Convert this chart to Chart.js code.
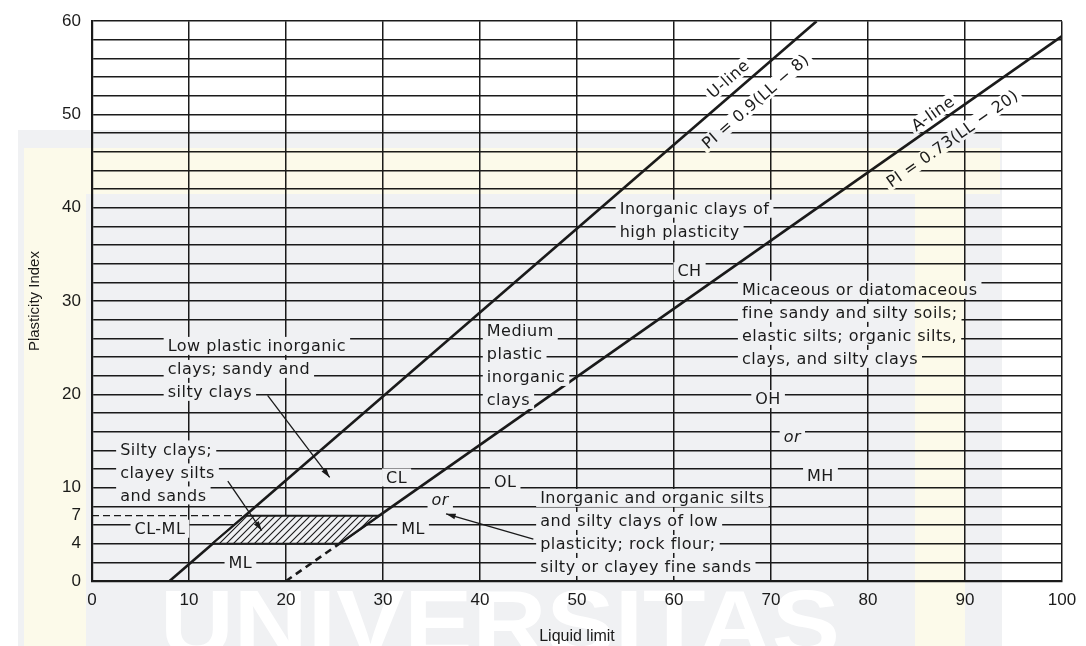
<!DOCTYPE html>
<html>
<head>
<meta charset="utf-8">
<script src="https://cdn.jsdelivr.net/npm/chart.js@4.4.1/dist/chart.umd.min.js"></script>
<style>
  html, body { margin: 0; padding: 0; background: #fff; }
  #wrap { width: 1086px; height: 646px; }
</style>
</head>
<body>
<div id="wrap"><canvas id="myChart" width="1086" height="646"></canvas></div>
<script>
'use strict';

// axis ticks
let llTicks = [0, 10, 20, 30, 40, 50, 60, 70, 80, 90, 100];
let piTickLabels = [0, 4, 7, 10, 20, 30, 40, 50, 60];

// U-line  PI = 0.9(LL - 8)
let uLineLL = [8, 74.7];
let uLinePI = [0, 60];
// A-line  PI = 0.73(LL - 20)
let aLineLL = [25.5, 100];
let aLinePI = [4, 58.4];
let aDashLL = [20, 25.5];
let aDashPI = [0, 4];
// CL-ML zone
let clmlLL = [12.4, 25.5, 29.6, 15.8, 12.4];
let clmlPI = [4, 4, 7, 7, 4];
let dash7LL = [0, 15.8];
let dash7PI = [7, 7];

// zone labels: text lines, LL, PI of first line, align, italic
let zoneText = [
  [['Inorganic clays of', 'high plasticity'], 54.4, 39.9, 'left'],
  [['CH'], 61.6, 33.2, 'center'],
  [['Micaceous or diatomaceous', 'fine sandy and silty soils;', 'elastic silts; organic silts,', 'clays, and silty clays'], 67.0, 31.2, 'left'],
  [['OH'], 69.7, 19.5, 'center'],
  [['or'], 72.2, 15.4, 'center', true],
  [['MH'], 75.1, 11.3, 'center'],
  [['Medium', 'plastic', 'inorganic', 'clays'], 40.7, 26.8, 'left'],
  [['Low plastic inorganic', 'clays; sandy and', 'silty clays'], 7.8, 25.2, 'left'],
  [['Silty clays;', 'clayey silts', 'and sands'], 2.9, 14.1, 'left'],
  [['CL'], 31.4, 11.1, 'center'],
  [['OL'], 42.6, 10.6, 'center'],
  [['or'], 35.9, 8.7, 'center', true],
  [['ML'], 33.1, 5.6, 'center'],
  [['CL-ML'], 7.0, 5.6, 'center'],
  [['ML'], 15.3, 1.9, 'center'],
  [['Inorganic and organic silts', 'and silty clays of low', 'plasticity; rock flour;', 'silty or clayey fine sands'], 46.2, 8.9, 'left']
];

// labels along the two lines: text, LL, PI, which line
let lineText = [
  ['U-line', 65.6, 53.8, 0],
  ['PI = 0.9(LL \u2212 8)', 68.4, 51.4, 0],
  ['A-line', 86.7, 50.1, 1],
  ['PI = 0.73(LL \u2212 20)', 88.7, 47.4, 1]
];

// arrows: from LL, PI to LL, PI
let arrowFromLL = [18.1, 14.0, 45.5];
let arrowFromPI = [19.9, 10.7, 4.5];
let arrowToLL = [24.5, 17.5, 36.5];
let arrowToPI = [11.1, 5.4, 7.2];

const ink = '#1b1b1b';
const labelFont = '16px "DejaVu Sans"';

function pts(xs, ys) {
  return xs.map((x, i) => ({ x: x, y: ys[i] }));
}

// diagonal hatch for CL-ML
function makeHatch() {
  let c = document.createElement('canvas');
  c.width = 7;
  c.height = 7;
  let g = c.getContext('2d');
  g.fillStyle = '#fff';
  g.fillRect(0, 0, 7, 7);
  g.strokeStyle = ink;
  g.lineWidth = 1.1;
  g.beginPath();
  g.moveTo(-1, 8); g.lineTo(8, -1);
  g.moveTo(-1, 1); g.lineTo(1, -1);
  g.moveTo(6, 8); g.lineTo(8, 6);
  g.stroke();
  return g.createPattern(c, 'repeat');
}

// faint watermark of the scanned page
function makeTint(w, h) {
  let c = document.createElement('canvas');
  c.width = w;
  c.height = h;
  let g = c.getContext('2d');
  g.fillStyle = '#fff';
  g.fillRect(0, 0, w, h);
  g.fillStyle = '#f0f1f3';
  g.fillRect(18, 130, 984, h - 130);
  g.fillStyle = '#fcfaea';
  g.fillRect(24, 148, 976, 46);
  g.fillRect(24, 148, 62, h - 148);
  g.fillRect(915, 148, 50, h - 148);
  g.fillStyle = '#fff';
  g.font = 'bold 92px "Liberation Sans"';
  g.textBaseline = 'alphabetic';
  let word = 'UNIVERSITAS';
  let tw = g.measureText(word).width;
  g.save();
  g.translate(160, 655);
  g.scale(680 / tw, 1);
  g.fillText(word, 0, 0);
  g.restore();
  return c;
}

const labelPlugin = {
  id: 'labelPlugin',
  afterDatasetsDraw(chart) {
    const ctx = chart.ctx;
    const xs = chart.scales.x;
    const ys = chart.scales.y;
    ctx.save();
    ctx.font = labelFont;
    ctx.textBaseline = 'middle';
    ctx.letterSpacing = '0.5px';

    // arrows
    ctx.strokeStyle = ink;
    ctx.fillStyle = ink;
    ctx.lineWidth = 1.3;
    for (let i = 0; i < arrowFromLL.length; i++) {
      let x1 = xs.getPixelForValue(arrowFromLL[i]);
      let y1 = ys.getPixelForValue(arrowFromPI[i]);
      let x2 = xs.getPixelForValue(arrowToLL[i]);
      let y2 = ys.getPixelForValue(arrowToPI[i]);
      let a = Math.atan2(y2 - y1, x2 - x1);
      ctx.beginPath();
      ctx.moveTo(x1, y1);
      ctx.lineTo(x2, y2);
      ctx.stroke();
      ctx.beginPath();
      ctx.moveTo(x2, y2);
      ctx.lineTo(x2 - 10 * Math.cos(a - 0.3), y2 - 10 * Math.sin(a - 0.3));
      ctx.lineTo(x2 - 10 * Math.cos(a + 0.3), y2 - 10 * Math.sin(a + 0.3));
      ctx.closePath();
      ctx.fill();
    }

    // zone texts with white boxes that break the grid
    for (let i = 0; i < zoneText.length; i++) {
      let lines = zoneText[i][0];
      let x = xs.getPixelForValue(zoneText[i][1]);
      let y = ys.getPixelForValue(zoneText[i][2]);
      let align = zoneText[i][3];
      ctx.font = zoneText[i][4] ? 'italic ' + labelFont : labelFont;
      for (let j = 0; j < lines.length; j++) {
        let w = ctx.measureText(lines[j]).width;
        let left = align === 'left' ? x : x - w / 2;
        let ly = y + j * 23;
        ctx.fillStyle = '#fff';
        ctx.fillRect(left - 4, ly - 9, w + 8, 18);
        ctx.fillStyle = ink;
        ctx.textAlign = 'left';
        ctx.fillText(lines[j], left, ly + 1);
      }
    }

    // rotated texts along U and A lines
    ctx.font = labelFont;
    let lineSets = [[uLineLL, uLinePI], [aLineLL, aLinePI]];
    for (let i = 0; i < lineText.length; i++) {
      let set = lineSets[lineText[i][3]];
      let dx = xs.getPixelForValue(set[0][1]) - xs.getPixelForValue(set[0][0]);
      let dy = ys.getPixelForValue(set[1][1]) - ys.getPixelForValue(set[1][0]);
      let ang = Math.atan2(dy, dx);
      let x = xs.getPixelForValue(lineText[i][1]);
      let y = ys.getPixelForValue(lineText[i][2]);
      let w = ctx.measureText(lineText[i][0]).width;
      ctx.save();
      ctx.translate(x, y);
      ctx.rotate(ang);
      ctx.fillStyle = '#fff';
      ctx.fillRect(-w / 2 - 3, -8, w + 6, 16);
      ctx.fillStyle = ink;
      ctx.textAlign = 'center';
      ctx.fillText(lineText[i][0], 0, 1);
      ctx.restore();
    }
    ctx.restore();
  },
  afterDraw(chart) {
    const ctx = chart.ctx;
    if (!chart.$tint) chart.$tint = makeTint(chart.width, chart.height);
    ctx.save();
    ctx.globalCompositeOperation = 'multiply';
    ctx.drawImage(chart.$tint, 0, 0);
    ctx.restore();
  }
};

let ctx = document.getElementById('myChart').getContext('2d');

let myChart = new Chart(ctx, {
  type: 'scatter',
  data: {
    datasets: [{
      label: 'CL-ML',
      data: pts(clmlLL, clmlPI),
      showLine: true,
      fill: 'shape',
      backgroundColor: makeHatch(),
      borderColor: ink,
      borderWidth: 2,
      pointRadius: 0
    }, {
      label: 'U-line',
      data: pts(uLineLL, uLinePI),
      showLine: true,
      borderColor: ink,
      borderWidth: 2.6,
      pointRadius: 0
    }, {
      label: 'A-line',
      data: pts(aLineLL, aLinePI),
      showLine: true,
      borderColor: ink,
      borderWidth: 2.6,
      pointRadius: 0
    }, {
      label: 'A-line dashed',
      data: pts(aDashLL, aDashPI),
      showLine: true,
      borderColor: ink,
      borderWidth: 2.6,
      borderDash: [7, 5],
      pointRadius: 0
    }, {
      label: 'PI 7',
      data: pts(dash7LL, dash7PI),
      showLine: true,
      borderColor: ink,
      borderWidth: 1.2,
      borderDash: [7, 4],
      pointRadius: 0
    }]
  },
  options: {
    responsive: false,
    animation: false,
    layout: { padding: { left: 0, right: 24, top: 15, bottom: 0 } },
    plugins: {
      legend: { display: false },
      tooltip: { enabled: false }
    },
    scales: {
      x: {
        type: 'linear',
        min: 0,
        max: 100,
        afterBuildTicks: (axis) => { axis.ticks = llTicks.map(v => ({ value: v })); },
        afterFit: (axis) => { axis.height = 65; },
        grid: { color: ink, lineWidth: 1.5, drawTicks: false },
        border: { color: ink, width: 2.2 },
        ticks: {
          color: ink,
          padding: 9,
          font: { family: 'Liberation Sans', size: 17 },
          maxRotation: 0
        },
        title: {
          display: true,
          text: 'Liquid limit',
          color: ink,
          font: { family: 'Liberation Sans', size: 16 },
          padding: { top: 6, bottom: 0 }
        }
      },
      y: {
        type: 'linear',
        min: 0,
        max: 60,
        afterBuildTicks: (axis) => {
          let t = [];
          for (let v = 0; v <= 60; v += 2) t.push({ value: v });
          t.push({ value: 7 });
          t.sort((a, b) => a.value - b.value);
          axis.ticks = t;
        },
        afterFit: (axis) => { axis.width = 92; },
        grid: {
          color: (c) => (c.tick && c.tick.value === 7 ? 'rgba(0,0,0,0)' : ink),
          lineWidth: 1.5,
          drawTicks: false
        },
        border: { color: ink, width: 2.2 },
        ticks: {
          color: ink,
          padding: 11,
          autoSkip: false,
          font: { family: 'Liberation Sans', size: 17 },
          callback: (v) => (piTickLabels.includes(v) ? String(v) : '')
        },
        title: {
          display: true,
          text: 'Plasticity Index',
          color: ink,
          font: { family: 'Liberation Sans', size: 15 },
          padding: { top: 26, bottom: 0 }
        }
      }
    }
  },
  plugins: [labelPlugin]
});
</script>
</body>
</html>
